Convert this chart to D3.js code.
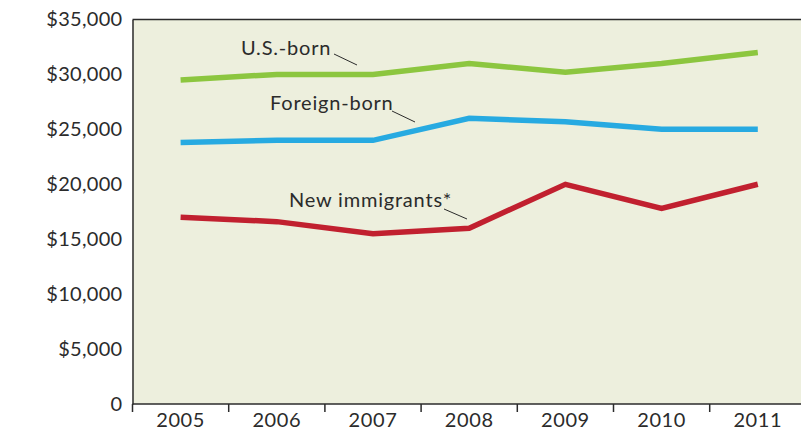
<!DOCTYPE html>
<html>
<head>
<meta charset="utf-8">
<script src="https://cdn.jsdelivr.net/npm/d3@7"></script>
<style>
  html, body { margin: 0; padding: 0; background: #ffffff; }
  svg { display: block; }
  text { font-family: "Lato", "Open Sans", sans-serif; fill: #2b2b2b; }
</style>
</head>
<body>
<svg id="chart" width="801" height="435"></svg>
<script>
// Median earnings by year and group
const years = ["2005", "2006", "2007", "2008", "2009", "2010", "2011"];
const usBorn = [29500, 30000, 30000, 31000, 30200, 31000, 32000];
const foreignBorn = [23800, 24000, 24000, 26000, 25700, 25000, 25000];
const newImmigrants = [17000, 16600, 15500, 16000, 20000, 17800, 20000];
const yTicks = [0, 5000, 10000, 15000, 20000, 25000, 30000, 35000];

const series = [
  { name: "U.S.-born", values: usBorn, color: "#8cc63f" },
  { name: "Foreign-born", values: foreignBorn, color: "#27aae1" },
  { name: "New immigrants*", values: newImmigrants, color: "#c1202f" }
];

const svg = d3.select("#chart");
const plotLeft = 132.5, plotTop = 19.5, plotBottom = 404, bandW = 96.2;

const x = d3.scaleBand().domain(years).range([plotLeft, plotLeft + bandW * years.length]).padding(0);
const y = d3.scaleLinear().domain([0, 35000]).range([plotBottom, plotTop]);

// plot background
svg.append("rect")
  .attr("x", plotLeft).attr("y", plotTop)
  .attr("width", 801 - plotLeft).attr("height", plotBottom - plotTop)
  .attr("fill", "#edefdd");

// top border
svg.append("line")
  .attr("x1", plotLeft).attr("x2", 801)
  .attr("y1", plotTop).attr("y2", plotTop)
  .attr("stroke", "#2b2b2b").attr("stroke-width", 1.5);

// y axis
const yAxis = svg.append("g")
  .attr("transform", `translate(${plotLeft},0)`)
  .call(d3.axisLeft(y).tickValues(yTicks).tickSize(0).tickPadding(10)
    .tickFormat(d => d === 0 ? "0" : "$" + d3.format(",")(d)));
yAxis.select(".domain").attr("stroke", "#2b2b2b").attr("stroke-width", 1.5);
yAxis.selectAll("text").attr("font-size", 20).attr("letter-spacing", 0.3).attr("fill", "#2b2b2b");

// x axis with ticks at band edges
const xAxis = svg.append("g")
  .attr("transform", `translate(0,${plotBottom})`)
  .call(d3.axisBottom(x).tickSize(0).tickPadding(9));
xAxis.select(".domain").remove();
xAxis.selectAll("text").attr("font-size", 20).attr("letter-spacing", 0.6).attr("fill", "#2b2b2b");
svg.append("line")
  .attr("x1", plotLeft).attr("x2", 801)
  .attr("y1", plotBottom).attr("y2", plotBottom)
  .attr("stroke", "#2b2b2b").attr("stroke-width", 1.5);
svg.append("g").selectAll("line")
  .data(years)
  .join("line")
  .attr("x1", d => x(d)).attr("x2", d => x(d))
  .attr("y1", plotBottom).attr("y2", plotBottom + 8)
  .attr("stroke", "#2b2b2b").attr("stroke-width", 1.5);

// series lines
const line = d3.line()
  .x((d, i) => x(years[i]) + x.bandwidth() / 2)
  .y(d => y(d));

svg.append("g").selectAll("path")
  .data(series)
  .join("path")
  .attr("d", d => line(d.values))
  .attr("fill", "none")
  .attr("stroke", d => d.color)
  .attr("stroke-width", 5.5)
  .attr("stroke-linejoin", "miter");

// series labels with leader lines
const labels = [
  { text: "U.S.-born", tx: 241, ty: 55, lx1: 334, ly1: 54, lx2: 357, ly2: 65 },
  { text: "Foreign-born", tx: 270, ty: 110, lx1: 392, ly1: 111, lx2: 415, ly2: 122 },
  { text: "New immigrants*", tx: 289, ty: 207, lx1: 444, ly1: 209, lx2: 467, ly2: 219 }
];
const lg = svg.append("g");
lg.selectAll("text")
  .data(labels)
  .join("text")
  .attr("x", d => d.tx).attr("y", d => d.ty)
  .attr("font-size", 20)
  .attr("letter-spacing", 0.8)
  .text(d => d.text);
lg.selectAll("line")
  .data(labels)
  .join("line")
  .attr("x1", d => d.lx1).attr("y1", d => d.ly1)
  .attr("x2", d => d.lx2).attr("y2", d => d.ly2)
  .attr("stroke", "#2b2b2b").attr("stroke-width", 1);
</script>
</body>
</html>
